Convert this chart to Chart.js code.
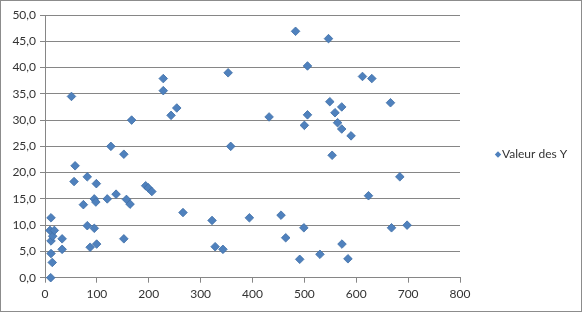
<!DOCTYPE html>
<html>
<head>
<meta charset="utf-8">
<script src="https://cdn.jsdelivr.net/npm/chart.js@4/dist/chart.umd.min.js"></script>
<style>
  html, body { margin: 0; padding: 0; background: #fff; }
  #wrap { width: 580px; height: 310px; border: 1px solid #8c8c8c; }
  canvas { display: block; }
</style>
</head>
<body>
<div id="wrap"><canvas id="chart" width="580" height="310"></canvas></div>
<script>
// values
const seriesName = 'Valeur des Y';
const xValues = [11, 14, 11.6, 11.6, 14.8, 9.6, 18, 11.6, 33, 33,
    51, 58, 56, 81.5, 99, 74, 95, 98, 81.5, 95,
    87, 99.6, 120, 127, 137, 152, 152, 157, 164, 167,
    194, 199, 206, 228, 228, 243, 254, 266, 322, 328,
    343, 353, 358, 394, 432, 455, 464, 483, 491, 499,
    500, 506, 506, 530, 546.5, 549, 553.5, 559, 564, 572,
    572, 572.5, 584, 590, 612, 623.6, 630, 666, 668, 684, 698];
const yValues = [0.0, 2.9, 4.6, 7.0, 7.9, 9.0, 9.0, 11.4, 5.4, 7.4,
    34.5, 21.3, 18.3, 19.2, 17.9, 13.9, 15.0, 14.4, 9.9, 9.4,
    5.8, 6.4, 15.0, 25.0, 15.9, 23.5, 7.4, 14.9, 14.0, 30.0,
    17.5, 17.1, 16.4, 37.9, 35.6, 30.9, 32.3, 12.4, 10.9, 5.9,
    5.4, 39.0, 25.0, 11.4, 30.6, 11.9, 7.6, 46.9, 3.5, 9.5,
    29.0, 31.0, 40.3, 4.45, 45.5, 33.5, 23.3, 31.4, 29.5, 32.5,
    28.3, 6.4, 3.6, 27.0, 38.3, 15.6, 37.9, 33.3, 9.5, 19.2, 10.0];
const xRange = [0, 800, 100];
const yRange = [0, 50, 5];

const markerFill = '#4F81BD';
const markerEdge = '#3E6DA6';
const gridColor = '#868686';
const textColor = '#333333';
const fontFamily = 'Lato, "Liberation Sans", sans-serif';

// simple Excel-like legend on the right
const sideLegend = {
    id: 'sideLegend',
    afterDraw(chart) {
        const ctx = chart.ctx;
        const ds = chart.data.datasets[0];
        const cx = 497, cy = 153.5, r = 3.2;
        ctx.save();
        ctx.beginPath();
        ctx.moveTo(cx, cy - r);
        ctx.lineTo(cx + r, cy);
        ctx.lineTo(cx, cy + r);
        ctx.lineTo(cx - r, cy);
        ctx.closePath();
        ctx.fillStyle = ds.backgroundColor;
        ctx.fill();
        ctx.font = '12px ' + fontFamily;
        ctx.fillStyle = textColor;
        ctx.textBaseline = 'middle';
        ctx.fillText(ds.label, 501, cy);
        ctx.restore();
    }
};

const points = xValues.map((x, i) => ({ x: x, y: yValues[i] }));

new Chart(document.getElementById('chart'), {
    type: 'scatter',
    data: {
        datasets: [{
            label: seriesName,
            data: points,
            clip: false,
            pointStyle: 'rectRot',
            pointRadius: 4.3,
            pointHoverRadius: 4.3,
            backgroundColor: markerFill,
            borderColor: markerEdge,
            borderWidth: 0.8
        }]
    },
    options: {
        responsive: false,
        animation: false,
        layout: { padding: { top: 14, right: 121, bottom: 0, left: 0 } },
        plugins: {
            legend: { display: false },
            tooltip: { enabled: false }
        },
        scales: {
            x: {
                type: 'linear',
                min: xRange[0],
                max: xRange[1],
                ticks: {
                    stepSize: xRange[2],
                    color: textColor,
                    font: { family: fontFamily, size: 12 },
                    padding: 4,
                    maxRotation: 0
                },
                grid: {
                    drawOnChartArea: false,
                    drawTicks: true,
                    tickLength: 5,
                    color: gridColor
                },
                border: { color: gridColor },
                afterFit: s => { s.height = 33.3; }
            },
            y: {
                type: 'linear',
                min: yRange[0],
                max: yRange[1],
                ticks: {
                    stepSize: yRange[2],
                    color: textColor,
                    font: { family: fontFamily, size: 12 },
                    padding: 4,
                    callback: v => v.toFixed(1).replace('.', ',')
                },
                grid: {
                    color: gridColor,
                    tickLength: 5
                },
                border: { color: gridColor },
                afterFit: s => { s.width = 44; }
            }
        }
    },
    plugins: [sideLegend]
});
</script>
</body>
</html>
